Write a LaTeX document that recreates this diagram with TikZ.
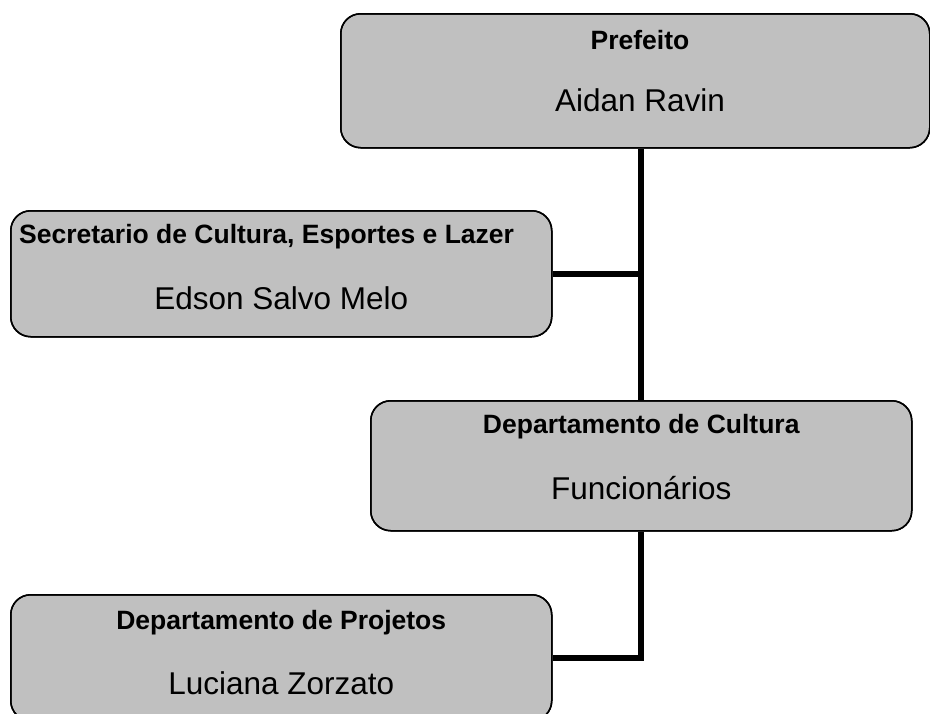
\documentclass[tikz,border=0pt]{standalone}
\usepackage{fontspec}
\setmainfont{Liberation Sans}
\definecolor{boxgray}{RGB}{192,192,192}
\begin{document}
\begin{tikzpicture}[x=1pt,y=-1pt,
  orgbox/.style={draw=black, line width=1.5pt, fill=boxgray, rounded corners=20pt,
    inner sep=0pt, anchor=north west},
  titletext/.style={font=\fontsize{26.5}{30}\selectfont\bfseries, inner sep=0pt, anchor=base},
  nametext/.style={font=\fontsize{31.5}{36}\selectfont, inner sep=0pt, anchor=base},
  link/.style={draw=black, line width=6pt}]
\useasboundingbox (0,0) rectangle (930,713);
\clip (0,0) rectangle (930,713);
% boxes
\node[orgbox, minimum width=589pt, minimum height=134pt] (b1) at (340,13) {};
\node[orgbox, minimum width=541pt, minimum height=126pt] (b2) at (10,210) {};
\node[orgbox, minimum width=541pt, minimum height=130pt] (b3) at (370,400) {};
\node[orgbox, minimum width=541pt, minimum height=126pt] (b4) at (10,594) {};
% connectors
\path[link] (b3.north |- b1.south) -- (b3.north);
\path[link] (b2.east) -- (b2.east -| b3.north);
\path[link] (b3.south) |- (b4.east);
% box borders over connector ends
\node[orgbox, fill=none, minimum width=589pt, minimum height=134pt] (b1o) at (340,13) {};
\node[orgbox, fill=none, minimum width=541pt, minimum height=126pt] (b2o) at (10,210) {};
\node[orgbox, fill=none, minimum width=541pt, minimum height=130pt] (b3o) at (370,400) {};
\node[orgbox, fill=none, minimum width=541pt, minimum height=126pt] (b4o) at (10,594) {};
% texts
\node[titletext] (t1) at (640,49) {Prefeito};
\node[nametext] (n1) at (640,111) {Aidan Ravin};
\node[titletext, anchor=base west] (t2) at (19,243) {Secretario de Cultura, Esportes e Lazer};
\node[nametext] (n2) at (b2.center |- 0,309) {Edson Salvo Melo};
\node[titletext] (t3) at (b3.center |- 0,433) {Departamento de Cultura};
\node[nametext] (n3) at (b3.center |- 0,499) {Funcionários};
\node[titletext] (t4) at (b4.center |- 0,629) {Departamento de Projetos};
\node[nametext] (n4) at (b4.center |- 0,694) {Luciana Zorzato};
\end{tikzpicture}
\end{document}
